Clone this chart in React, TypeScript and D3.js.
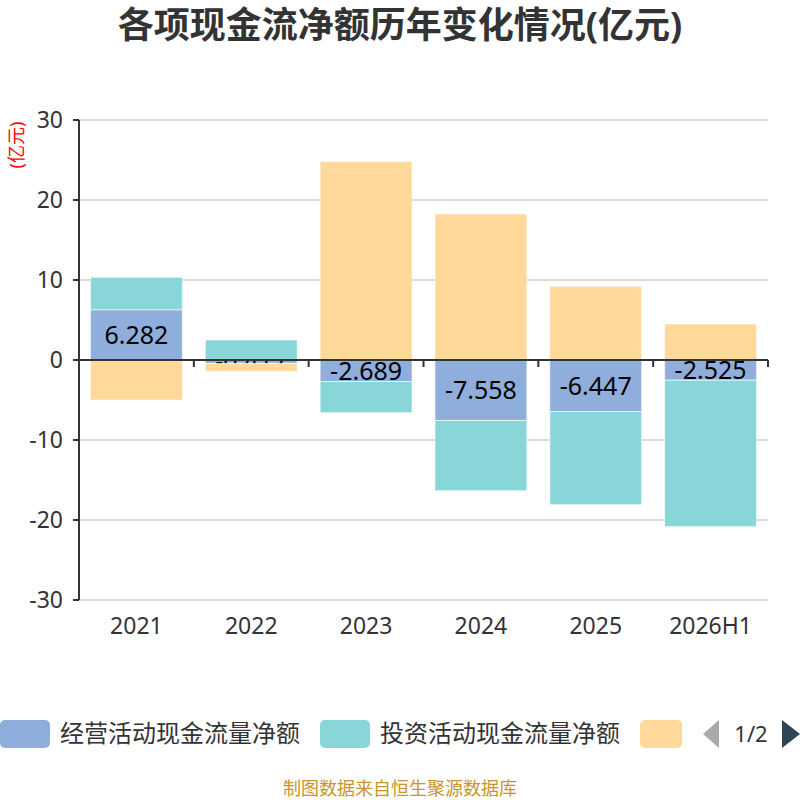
import { useRef, useEffect } from 'react';
import * as d3 from 'd3';

// Stacked (diverging) bar chart of the three cash-flow lines, per year.

const YEARS = ['2021', '2022', '2023', '2024', '2025', '2026H1'];
const OPERATING = [6.282, -0.417, -2.689, -7.558, -6.447, -2.525];
const INVESTING = [4.05, 2.5, -3.9, -8.78, -11.64, -18.3];
const FINANCING = [-5.0, -1.0, 24.8, 18.25, 9.2, 4.5];
const Y_TICKS = [-30, -20, -10, 0, 10, 20, 30];

const SERIES_NAMES = ['经营活动现金流量净额', '投资活动现金流量净额', '筹资活动现金流量净额'];
const COLORS = ['#8FAEDB', '#88D6D8', '#FFD89A'];

const W = 800;
const H = 800;
const M = { left: 79, right: 768, top: 120, bottom: 600 };
const FONT = '"Noto Sans", "Noto Sans CJK SC", sans-serif';

type Row = { year: string; op: number; inv: number; fin: number };

export default function App() {
  const svgRef = useRef<SVGSVGElement>(null);

  useEffect(() => {
    const svg = d3.select(svgRef.current);
    svg.selectAll('*').remove();

    const rows: Row[] = YEARS.map((year, i) => ({
      year,
      op: OPERATING[i],
      inv: INVESTING[i],
      fin: FINANCING[i],
    }));
    const keys = ['op', 'inv', 'fin'];
    const stacked = d3.stack<Row>()
      .keys(keys)
      .order(d3.stackOrderNone)
      .offset(d3.stackOffsetDiverging)(rows);

    const x = d3.scaleBand<string>()
      .domain(YEARS)
      .range([M.left, M.right])
      .paddingInner(0.2)
      .paddingOuter(0.1);
    const xOuter = d3.scaleBand<string>().domain(YEARS).range([M.left, M.right]);
    const y = d3.scaleLinear().domain([-30, 30]).range([M.bottom, M.top]);

    // Title
    svg.append('text')
      .attr('x', W / 2).attr('y', 38)
      .attr('text-anchor', 'middle')
      .attr('font-size', 36).attr('font-weight', 'bold')
      .attr('fill', '#333')
      .attr('font-family', FONT)
      .text('各项现金流净额历年变化情况(亿元)');

    // Unit label
    svg.append('text')
      .attr('transform', `translate(23, 145) rotate(-90)`)
      .attr('text-anchor', 'middle')
      .attr('font-size', 18)
      .attr('fill', '#ff0000')
      .attr('font-family', FONT)
      .text('(亿元)');

    // Grid lines
    for (const t of Y_TICKS) {
      if (t === 0) continue;
      svg.append('line')
        .attr('x1', M.left).attr('x2', M.right)
        .attr('y1', y(t)).attr('y2', y(t))
        .attr('stroke', '#cccccc').attr('stroke-width', 1.5);
    }

    // Y axis
    svg.append('line')
      .attr('x1', M.left).attr('x2', M.left)
      .attr('y1', y(30)).attr('y2', y(-30))
      .attr('stroke', '#333').attr('stroke-width', 2);
    for (const t of Y_TICKS) {
      svg.append('line')
        .attr('x1', M.left - 6).attr('x2', M.left)
        .attr('y1', y(t)).attr('y2', y(t))
        .attr('stroke', '#333').attr('stroke-width', 2);
      svg.append('text')
        .attr('x', M.left - 16).attr('y', y(t))
        .attr('dy', '0.35em')
        .attr('text-anchor', 'end')
        .attr('font-size', 23)
        .attr('fill', '#333')
        .attr('font-family', FONT)
        .text(String(t));
    }

    // Bars, drawn series by series so later series cover earlier labels
    stacked.forEach((layer, si) => {
      const g = svg.append('g');
      g.selectAll('rect')
        .data(layer)
        .join('rect')
        .attr('x', (d) => x(d.data.year)!)
        .attr('width', x.bandwidth())
        .attr('y', (d) => y(Math.max(d[0], d[1])))
        .attr('height', (d) => Math.abs(y(d[0]) - y(d[1])))
        .attr('fill', COLORS[si])
        .attr('stroke', 'rgba(255,255,255,0.6)')
        .attr('stroke-width', 1);

      if (si === 0) {
        g.selectAll('text')
          .data(layer)
          .join('text')
          .attr('x', (d) => x(d.data.year)! + x.bandwidth() / 2)
          .attr('y', (d) => (y(d[0]) + y(d[1])) / 2)
          .attr('dy', '0.35em')
          .attr('text-anchor', 'middle')
          .attr('font-size', 25)
          .attr('fill', '#000')
          .attr('font-family', FONT)
          .text((d) => d.data.op.toFixed(3));
      }
    });

    // X axis at zero
    svg.append('line')
      .attr('x1', M.left).attr('x2', M.right)
      .attr('y1', y(0)).attr('y2', y(0))
      .attr('stroke', '#333').attr('stroke-width', 2);
    const boundaries = YEARS.map((yr) => xOuter(yr)!).concat([M.right]);
    for (const bx of boundaries) {
      svg.append('line')
        .attr('x1', bx).attr('x2', bx)
        .attr('y1', y(0)).attr('y2', y(0) + 7)
        .attr('stroke', '#333').attr('stroke-width', 2);
    }
    for (const yr of YEARS) {
      svg.append('text')
        .attr('x', xOuter(yr)! + xOuter.bandwidth() / 2)
        .attr('y', 634)
        .attr('text-anchor', 'middle')
        .attr('font-size', 23)
        .attr('fill', '#333')
        .attr('font-family', FONT)
        .text(yr);
    }

    // Legend (first page)
    const legendY = 734;
    const items = [
      { x: 0, w: 50 },
      { x: 320, w: 50 },
      { x: 640, w: 42 },
    ];
    items.forEach((it, i) => {
      svg.append('rect')
        .attr('x', it.x).attr('y', legendY - 14)
        .attr('width', it.w).attr('height', 28)
        .attr('rx', 5)
        .attr('fill', COLORS[i]);
      if (i < 2) {
        svg.append('text')
          .attr('x', it.x + 60).attr('y', legendY)
          .attr('dy', '0.35em')
          .attr('font-size', 24)
          .attr('fill', '#333')
          .attr('font-family', FONT)
          .text(SERIES_NAMES[i]);
      }
    });
    // pager
    svg.append('path')
      .attr('d', `M 703 ${legendY} L 719 ${legendY - 14} L 719 ${legendY + 14} Z`)
      .attr('fill', '#aaaaaa');
    svg.append('text')
      .attr('x', 751).attr('y', legendY)
      .attr('dy', '0.35em')
      .attr('text-anchor', 'middle')
      .attr('font-size', 22)
      .attr('fill', '#333')
      .attr('font-family', FONT)
      .text('1/2');
    svg.append('path')
      .attr('d', `M 782 ${legendY - 14} L 800 ${legendY} L 782 ${legendY + 14} Z`)
      .attr('fill', '#2f4554');

    // Footer
    svg.append('text')
      .attr('x', W / 2).attr('y', 795)
      .attr('text-anchor', 'middle')
      .attr('font-size', 18)
      .attr('fill', '#c8952c')
      .attr('font-family', FONT)
      .text('制图数据来自恒生聚源数据库');
  }, []);

  return (
    <div style={{ position: 'absolute', left: 0, top: 0, width: W, height: H, background: '#fff' }}>
      <svg ref={svgRef} width={W} height={H} style={{ display: 'block' }} />
    </div>
  );
}
